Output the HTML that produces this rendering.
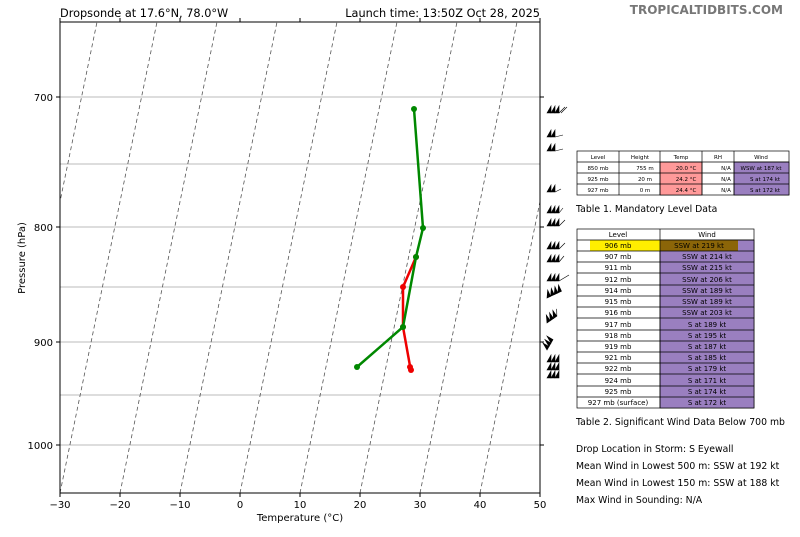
<!DOCTYPE html>
<html><head><meta charset="utf-8"><style>
body{margin:0;background:#fff;font-family:"DejaVu Sans","Liberation Sans",sans-serif;}
svg text{font-family:"DejaVu Sans","Liberation Sans",sans-serif;}
</style></head><body>
<svg width="800" height="533" viewBox="0 0 800 533" xmlns="http://www.w3.org/2000/svg">
<rect width="800" height="533" fill="#fff"/>
<defs><clipPath id="c"><rect x="60" y="22" width="480" height="471"/></clipPath></defs>
<g clip-path="url(#c)" stroke="#bbb" stroke-width="1">
<line x1="60" y1="97" x2="540" y2="97"/><line x1="60" y1="227" x2="540" y2="227"/>
<line x1="60" y1="342" x2="540" y2="342"/><line x1="60" y1="445" x2="540" y2="445"/>
<line x1="60" y1="164" x2="540" y2="164"/><line x1="60" y1="287" x2="540" y2="287"/><line x1="60" y1="395" x2="540" y2="395"/>
</g>
<g clip-path="url(#c)" stroke="#555" stroke-width="0.8" stroke-dasharray="4,3">
<line x1="0" y1="493" x2="97" y2="22"/><line x1="60" y1="493" x2="157" y2="22"/><line x1="120" y1="493" x2="217" y2="22"/>
<line x1="180" y1="493" x2="277" y2="22"/><line x1="240" y1="493" x2="337" y2="22"/><line x1="300" y1="493" x2="397" y2="22"/>
<line x1="360" y1="493" x2="457" y2="22"/><line x1="420" y1="493" x2="517" y2="22"/><line x1="480" y1="493" x2="577" y2="22"/>
</g>
<rect x="60" y="22" width="480" height="471" fill="none" stroke="#000" stroke-width="1"/>
<g stroke="#000" stroke-width="1">
<line x1="60" y1="493" x2="60" y2="497"/><line x1="120" y1="493" x2="120" y2="497"/><line x1="180" y1="493" x2="180" y2="497"/><line x1="240" y1="493" x2="240" y2="497"/><line x1="300" y1="493" x2="300" y2="497"/><line x1="360" y1="493" x2="360" y2="497"/><line x1="420" y1="493" x2="420" y2="497"/><line x1="480" y1="493" x2="480" y2="497"/><line x1="540" y1="493" x2="540" y2="497"/>
<line x1="60" y1="22" x2="60" y2="18"/><line x1="120" y1="22" x2="120" y2="18"/><line x1="180" y1="22" x2="180" y2="18"/><line x1="240" y1="22" x2="240" y2="18"/><line x1="300" y1="22" x2="300" y2="18"/><line x1="360" y1="22" x2="360" y2="18"/><line x1="420" y1="22" x2="420" y2="18"/><line x1="480" y1="22" x2="480" y2="18"/><line x1="540" y1="22" x2="540" y2="18"/>
<line x1="56" y1="97" x2="60" y2="97"/><line x1="56" y1="227" x2="60" y2="227"/><line x1="56" y1="342" x2="60" y2="342"/><line x1="56" y1="445" x2="60" y2="445"/>
<line x1="540" y1="97" x2="544" y2="97"/><line x1="540" y1="227" x2="544" y2="227"/><line x1="540" y1="342" x2="544" y2="342"/><line x1="540" y1="445" x2="544" y2="445"/>
</g>
<g font-size="10" fill="#000" text-anchor="middle">
<text x="60" y="508">−30</text><text x="120" y="508">−20</text><text x="180" y="508">−10</text><text x="240" y="508">0</text><text x="300" y="508">10</text><text x="360" y="508">20</text><text x="420" y="508">30</text><text x="480" y="508">40</text><text x="540" y="508">50</text>
<text x="300" y="521">Temperature (°C)</text>
</g>
<g font-size="10" text-anchor="end"><text x="53" y="101">700</text><text x="53" y="231">800</text><text x="53" y="346">900</text><text x="53" y="449">1000</text></g>
<text x="25" y="258" font-size="10" text-anchor="middle" transform="rotate(-90 25 258)">Pressure (hPa)</text>
<text x="60" y="17" font-size="11.3">Dropsonde at 17.6°N, 78.0°W</text>
<text x="540" y="17" font-size="11.3" text-anchor="end">Launch time: 13:50Z Oct 28, 2025</text>
<text x="783" y="14" font-size="12" font-weight="bold" fill="#777" text-anchor="end">TROPICALTIDBITS.COM</text>
<polyline points="416,257 403,287 403,327 410,366 411,370" fill="none" stroke="#e00" stroke-width="2.5"/>
<g fill="#e00"><circle cx="416" cy="257" r="3"/><circle cx="403" cy="287" r="3"/><circle cx="403" cy="327" r="3"/><circle cx="410" cy="367" r="3"/><circle cx="411" cy="370" r="3"/></g>
<polyline points="414,109 423,228 416,257 403,327 357,367" fill="none" stroke="#080" stroke-width="2.5"/>
<g fill="#080"><circle cx="414" cy="109" r="3"/><circle cx="423" cy="228" r="3"/><circle cx="416" cy="257" r="3"/><circle cx="403" cy="327" r="3"/><circle cx="357" cy="367" r="3"/></g>
<g fill="#000" stroke="#000" stroke-width="0.6">
<g transform="translate(547,113)"><polygon points="0,0 4,-7 4,0"/><polygon points="4,0 8,-7 8,0"/><polygon points="8,0 12,-7 12,0"/><line x1="12" y1="0" x2="18" y2="-6"/><line x1="14" y1="0" x2="20" y2="-6"/></g>
<g transform="translate(547,137)"><polygon points="0,0 4,-7 4,0"/><polygon points="4,0 8,-7 8,0"/><line x1="8" y1="0" x2="16" y2="-2"/></g>
<g transform="translate(547,151)"><polygon points="0,0 4,-7 4,0"/><polygon points="4,0 8,-7 8,0"/><line x1="8" y1="0" x2="16" y2="-2"/></g>
<g transform="translate(547,192)"><polygon points="0,0 4,-7 4,0"/><polygon points="4,0 8,-7 8,0"/><line x1="8" y1="0" x2="14" y2="-3"/></g>
<g transform="translate(547,213)"><polygon points="0,0 4,-7 4,0"/><polygon points="4,0 8,-7 8,0"/><polygon points="8,0 12,-7 12,0"/><line x1="12" y1="0" x2="16" y2="-5"/></g>
<g transform="translate(547,226)"><polygon points="0,0 4,-7 4,0"/><polygon points="4,0 8,-7 8,0"/><polygon points="8,0 12,-7 12,0"/><line x1="12" y1="0" x2="18" y2="-6"/></g>
<g transform="translate(547,249)"><polygon points="0,0 4,-7 4,0"/><polygon points="4,0 8,-7 8,0"/><polygon points="8,0 12,-7 12,0"/><line x1="12" y1="0" x2="18" y2="-6"/></g>
<g transform="translate(547,262)"><polygon points="0,0 4,-7 4,0"/><polygon points="4,0 8,-7 8,0"/><polygon points="8,0 12,-7 12,0"/><line x1="12" y1="0" x2="17" y2="-6"/></g>
<g transform="translate(547,281)"><polygon points="0,0 4,-7 4,0"/><polygon points="4,0 8,-7 8,0"/><polygon points="8,0 12,-7 12,0"/><line x1="12" y1="0" x2="22" y2="-6"/></g>
<g transform="translate(547,298) rotate(-25)"><polygon points="0,0 4,-7 4,0"/><polygon points="4,0 8,-7 8,0"/><polygon points="8,0 12,-7 12,0"/><polygon points="12,0 16,-7 16,0"/></g>
<g transform="translate(547,323) rotate(-35)"><polygon points="0,0 4,-7 4,0"/><polygon points="4,0 8,-7 8,0"/><polygon points="8,0 12,-7 12,0"/><line x1="12" y1="0" x2="16" y2="-6"/></g>
<g transform="translate(547,350) rotate(-60)"><polygon points="0,0 4,-7 4,0"/><polygon points="4,0 8,-7 8,0"/><polygon points="8,0 12,-7 12,0"/></g>
<g transform="translate(547,362)"><polygon points="0,0 4,-7 4,0"/><polygon points="4,0 8,-7 8,0"/><polygon points="8,0 12,-7 12,0"/></g>
<g transform="translate(547,370)"><polygon points="0,0 4,-7 4,0"/><polygon points="4,0 8,-7 8,0"/><polygon points="8,0 12,-7 12,0"/></g>
<g transform="translate(547,378)"><polygon points="0,0 4,-7 4,0"/><polygon points="4,0 8,-7 8,0"/><polygon points="8,0 12,-7 12,0"/></g>
</g>
<g font-size="5.5" stroke="#000" stroke-width="0.7">
<rect x="577" y="151" width="212" height="44" fill="#fff"/>
<rect x="660" y="162" width="42" height="33" fill="#f99"/>
<rect x="734" y="162" width="55" height="33" fill="#9a7fc0"/>
<line x1="577" y1="162" x2="789" y2="162"/><line x1="577" y1="173" x2="789" y2="173"/><line x1="577" y1="184" x2="789" y2="184"/>
<line x1="619" y1="151" x2="619" y2="195"/><line x1="660" y1="151" x2="660" y2="195"/><line x1="702" y1="151" x2="702" y2="195"/><line x1="734" y1="151" x2="734" y2="195"/>
</g>
<g font-size="5.5" fill="#000" text-anchor="middle">
<text x="598" y="159">Level</text><text x="640" y="159">Height</text><text x="681" y="159">Temp</text><text x="718" y="159">RH</text><text x="761" y="159">Wind</text>
<text x="598" y="170">850 mb</text><text x="645" y="170">755 m</text><text x="686" y="170">20.0 °C</text><text x="726" y="170">N/A</text><text x="761" y="170">WSW at 187 kt</text>
<text x="598" y="181">925 mb</text><text x="645" y="181">20 m</text><text x="686" y="181">24.2 °C</text><text x="726" y="181">N/A</text><text x="765" y="181">S at 174 kt</text>
<text x="598" y="192">927 mb</text><text x="645" y="192">0 m</text><text x="686" y="192">24.4 °C</text><text x="726" y="192">N/A</text><text x="765" y="192">S at 172 kt</text>
</g>
<text x="576" y="212" font-size="9.3">Table 1. Mandatory Level Data</text>
<g stroke="#000" stroke-width="0.7">
<rect x="577" y="229" width="177" height="179" fill="#fff"/>
<rect x="660" y="240" width="94" height="168" fill="#9a7fc0"/>
<rect x="590" y="240" width="70" height="11" fill="#ffee00" stroke="none"/>
<rect x="660" y="240" width="78" height="11" fill="#8b6508" stroke="none"/>
<line x1="660" y1="229" x2="660" y2="408"/>
<line x1="577" y1="240" x2="754" y2="240"/><line x1="577" y1="251" x2="754" y2="251"/><line x1="577" y1="262" x2="754" y2="262"/><line x1="577" y1="273" x2="754" y2="273"/><line x1="577" y1="285" x2="754" y2="285"/><line x1="577" y1="296" x2="754" y2="296"/><line x1="577" y1="307" x2="754" y2="307"/><line x1="577" y1="318" x2="754" y2="318"/><line x1="577" y1="330" x2="754" y2="330"/><line x1="577" y1="341" x2="754" y2="341"/><line x1="577" y1="352" x2="754" y2="352"/><line x1="577" y1="363" x2="754" y2="363"/><line x1="577" y1="374" x2="754" y2="374"/><line x1="577" y1="386" x2="754" y2="386"/><line x1="577" y1="397" x2="754" y2="397"/>
</g>
<g font-size="7" fill="#000" text-anchor="middle">
<text x="618" y="237">Level</text><text x="707" y="237">Wind</text>
<text x="618" y="248">906 mb</text><text x="699" y="248">SSW at 219 kt</text>
<text x="618" y="259">907 mb</text><text x="707" y="259">SSW at 214 kt</text>
<text x="618" y="270">911 mb</text><text x="707" y="270">SSW at 215 kt</text>
<text x="618" y="282">912 mb</text><text x="707" y="282">SSW at 206 kt</text>
<text x="618" y="293">914 mb</text><text x="707" y="293">SSW at 189 kt</text>
<text x="618" y="304">915 mb</text><text x="707" y="304">SSW at 189 kt</text>
<text x="618" y="315">916 mb</text><text x="707" y="315">SSW at 203 kt</text>
<text x="618" y="327">917 mb</text><text x="707" y="327">S at 189 kt</text>
<text x="618" y="338">918 mb</text><text x="707" y="338">S at 195 kt</text>
<text x="618" y="349">919 mb</text><text x="707" y="349">S at 187 kt</text>
<text x="618" y="360">921 mb</text><text x="707" y="360">S at 185 kt</text>
<text x="618" y="371">922 mb</text><text x="707" y="371">S at 179 kt</text>
<text x="618" y="383">924 mb</text><text x="707" y="383">S at 171 kt</text>
<text x="618" y="394">925 mb</text><text x="707" y="394">S at 174 kt</text>
<text x="618" y="405">927 mb (surface)</text><text x="707" y="405">S at 172 kt</text>
</g>
<g font-size="9.3" fill="#000">
<text x="576" y="425">Table 2. Significant Wind Data Below 700 mb</text>
<text x="576" y="452">Drop Location in Storm: S Eyewall</text>
<text x="576" y="469">Mean Wind in Lowest 500 m:  SSW at 192 kt</text>
<text x="576" y="486">Mean Wind in Lowest 150 m:  SSW at 188 kt</text>
<text x="576" y="503">Max Wind in Sounding:  N/A</text>
</g>
</svg>
</body></html>
